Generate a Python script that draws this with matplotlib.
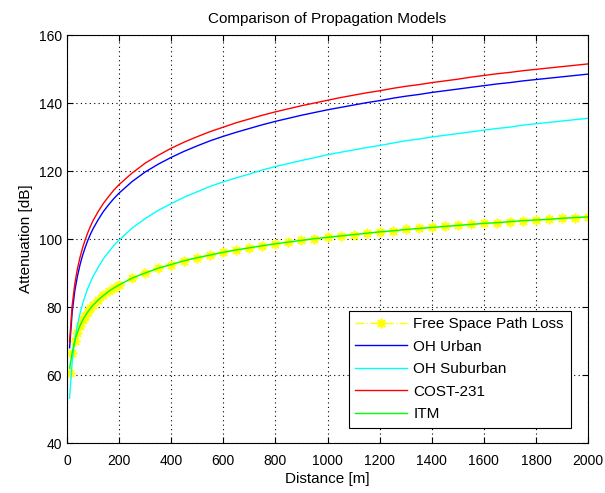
import matplotlib.pyplot as plt

plt.rcParams['font.family'] = ['Liberation Sans', 'DejaVu Sans']

# distances [m]
distance = [10, 20, 30, 40, 50, 60, 70, 80, 90, 100, 120, 140, 160, 180, 200,
            250, 300, 350, 400, 450, 500, 550, 600, 650, 700, 750, 800, 850,
            900, 950, 1000, 1050, 1100, 1150, 1200, 1250, 1300, 1350, 1400,
            1450, 1500, 1550, 1600, 1650, 1700, 1750, 1800, 1850, 1900, 1950,
            2000]

# attenuation [dB]
fspl = [60.5, 66.5, 70.0, 72.5, 74.5, 76.1, 77.4, 78.6, 79.6, 80.5, 82.1, 83.4,
        84.6, 85.6, 86.5, 88.5, 90.0, 91.4, 92.5, 93.6, 94.5, 95.3, 96.1, 96.8,
        97.4, 98.0, 98.6, 99.1, 99.6, 100.1, 100.5, 100.9, 101.3, 101.7, 102.1,
        102.4, 102.8, 103.1, 103.4, 103.7, 104.0, 104.3, 104.6, 104.8, 105.1,
        105.4, 105.6, 105.8, 106.1, 106.3, 106.5]
oh_urban = [68.0, 78.5, 84.7, 89.0, 92.4, 95.2, 97.5, 99.6, 101.4, 103.0, 105.7,
            108.1, 110.1, 111.9, 113.5, 116.9, 119.7, 122.0, 124.0, 125.8, 127.4,
            128.9, 130.2, 131.4, 132.5, 133.6, 134.6, 135.5, 136.4, 137.2, 138.0,
            138.7, 139.4, 140.1, 140.7, 141.4, 142.0, 142.5, 143.1, 143.6, 144.1,
            144.6, 145.1, 145.6, 146.0, 146.5, 146.9, 147.3, 147.7, 148.1, 148.5]
oh_suburban = [53.2, 63.9, 70.2, 74.6, 78.1, 81.0, 83.3, 85.5, 87.3, 89.0, 91.7,
               94.2, 96.2, 98.1, 99.7, 103.2, 106.0, 108.4, 110.4, 112.3, 113.9,
               115.5, 116.8, 118.0, 119.1, 120.3, 121.3, 122.2, 123.1, 123.9,
               124.8, 125.5, 126.2, 126.9, 127.5, 128.2, 128.9, 129.4, 130.0,
               130.5, 131.0, 131.5, 132.0, 132.5, 132.9, 133.5, 133.9, 134.3,
               134.7, 135.1, 135.5]
cost231 = [69.8, 80.5, 86.8, 91.2, 94.6, 97.4, 99.8, 101.9, 103.7, 105.4, 108.1,
           110.5, 112.5, 114.4, 116.0, 119.4, 122.3, 124.6, 126.7, 128.5, 130.1,
           131.6, 132.9, 134.2, 135.3, 136.4, 137.4, 138.3, 139.2, 140.0, 140.8,
           141.6, 142.3, 143.0, 143.6, 144.3, 144.9, 145.4, 146.0, 146.5, 147.0,
           147.6, 148.1, 148.6, 149.0, 149.5, 149.9, 150.3, 150.7, 151.1, 151.5]
itm = [62.0, 66.6, 70.0, 72.5, 74.5, 76.1, 77.4, 78.6, 79.6, 80.5, 82.1, 83.4,
       84.6, 85.6, 86.5, 88.5, 90.0, 91.4, 92.5, 93.6, 94.5, 95.3, 96.1, 96.8,
       97.4, 98.0, 98.6, 99.1, 99.6, 100.1, 100.5, 100.9, 101.3, 101.7, 102.1,
       102.4, 102.8, 103.1, 103.4, 103.7, 104.0, 104.3, 104.6, 104.8, 105.1,
       105.4, 105.6, 105.8, 106.1, 106.3, 106.5]

fig = plt.figure(figsize=(6.05, 4.93), dpi=100)
ax = fig.add_axes([0.1107, 0.1014, 0.8613, 0.8276])

# MATLAB-like asterisk marker
ax.plot(distance, fspl, color='#ffff00', linestyle='-.', marker=(8, 2, 0),
        markersize=7, markeredgewidth=1.2, linewidth=1,
        label='Free Space Path Loss')
ax.plot(distance, oh_urban, color='#0000ff', linewidth=1, label='OH Urban')
ax.plot(distance, oh_suburban, color='#00ffff', linewidth=1, label='OH Suburban')
ax.plot(distance, cost231, color='#ff0000', linewidth=1, label='COST-231')
ax.plot(distance, itm, color='#00ff00', linewidth=1, label='ITM')

ax.set_xlim(0, 2000)
ax.set_ylim(40, 160)
ax.set_xticks(range(0, 2001, 200))
ax.set_yticks(range(40, 161, 20))
ax.grid(True, color='black', linestyle=(0, (1, 3)), linewidth=0.8)
ax.tick_params(direction='in', top=True, right=True, labelsize=10, length=4)
ax.tick_params(axis='x', pad=8)
for s in ax.spines.values():
    s.set_linewidth(0.8)

ax.set_xlabel('Distance [m]', fontsize=11, labelpad=3)
ax.set_ylabel('Attenuation [dB]', fontsize=11, labelpad=4)
ax.set_title('Comparison of Propagation Models', fontsize=11, pad=9)

leg = ax.legend(loc='lower right', bbox_to_anchor=(0.967, 0.037), fontsize=11,
                borderaxespad=0, fancybox=False, framealpha=1,
                edgecolor='black', borderpad=0.45, labelspacing=0.55,
                handlelength=3.4, handletextpad=0.4)
leg.get_frame().set_linewidth(0.8)

fig.savefig('out.png', dpi=100)
